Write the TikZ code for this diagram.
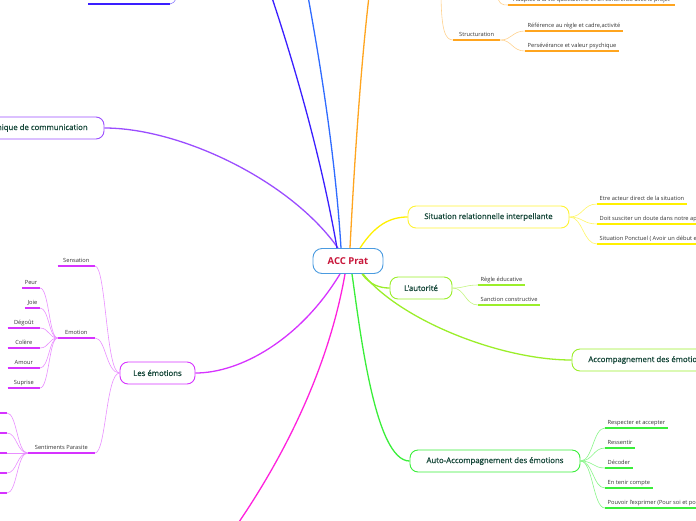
\documentclass[tikz,border=0pt]{standalone}
\usepackage{fontspec}
\setmainfont{Open Sans}
\newfontfamily\brfont[FakeBold=0.9]{Open Sans}
\definecolor{cblue}{HTML}{3A1FFF}
\definecolor{lblue}{HTML}{2F6BFF}
\definecolor{corange}{HTML}{FFA51F}
\definecolor{cyellow}{HTML}{FFF000}
\definecolor{clime}{HTML}{9BEE2A}
\definecolor{cgreen}{HTML}{3AEE3A}
\definecolor{cmag}{HTML}{FF22DD}
\definecolor{cviol}{HTML}{D633FF}
\definecolor{cpurp}{HTML}{9B4DFF}
\definecolor{centb}{HTML}{4A9BE0}
\definecolor{centt}{HTML}{C8163A}
\definecolor{brtext}{HTML}{17483A}
\definecolor{leaft}{HTML}{333333}
\begin{document}
\begin{tikzpicture}[x=1pt,y=-1pt,
  branch/.style={draw, rounded corners=8pt, line width=0.9pt, fill=white,
    font=\brfont\fontsize{7.8}{9}\selectfont, text=brtext, minimum height=22pt, inner xsep=6pt},
  leaf/.style={inner xsep=2.5pt, inner ysep=1.5pt, text height=1.4ex, text depth=0.3ex,
    font=\fontsize{5.7}{6.5}\selectfont, text=leaft},
  mainc/.style={line width=1.3pt},
  subc/.style={line width=0.6pt},
  ul/.style={line width=1.3pt}]
\useasboundingbox (0,0) rectangle (696,520);

% central node
\node[draw=centb, line width=0.9pt, rounded corners=9pt, minimum width=70pt, minimum height=25pt,
  font=\fontsize{9.5}{11}\selectfont\bfseries, text=centt, fill=white] (root) at (348,261) {ACC Prat};

% branch nodes
\node[branch, draw=cyellow!80, minimum width=161pt] (sri) at (488.5,217) {Situation relationnelle interpellante};
\node[branch, draw=clime, minimum width=62pt] (aut) at (421,288) {L'autorité};
\node[branch, draw=clime, minimum width=150pt] (acc) at (647,360) {Accompagnement des émotions};
\node[branch, draw=cgreen, minimum width=170pt] (auto) at (495,461) {Auto-Accompagnement des émotions};
\node[branch, draw=cviol, minimum width=75pt] (emo) at (157.5,373) {Les émotions};
\node[branch, draw=cpurp, minimum width=140pt] (comm) at (34,128) {Technique de communication};

% off-page endpoints
\coordinate (tb) at (266,-20);
\coordinate (tl) at (305,-20);
\coordinate (to) at (371,-20);
\coordinate (bm) at (230,535);
\coordinate (so) at (441,-10);
\coordinate (topo) at (496,-6);
\coordinate (topb) at (182,-6);

% main connectors
\draw[mainc, cpurp] ([xshift=-10pt]root.north) .. controls (290,180) and (180,128) .. (comm.east);
\draw[mainc, cblue] ([xshift=-11pt]root.north) .. controls (320,150) and (290,50) .. (tb);
\draw[mainc, lblue] ([xshift=-7pt]root.north) .. controls (335,150) and (318,50) .. (tl);
\draw[mainc, corange] ([xshift=2pt]root.north) .. controls (355,150) and (362,50) .. (to);
\draw[mainc, cyellow] ([xshift=12pt]root.north) .. controls (375,225) and (390,217) .. (sri.west);
\draw[mainc, clime] ([xshift=14pt]root.south) .. controls (370,285) and (380,288) .. (aut.west);
\draw[mainc, clime] ([xshift=15pt]root.south) .. controls (400,320) and (500,360) .. (acc.west);
\draw[mainc, cgreen] ([xshift=4pt]root.south) .. controls (360,330) and (375,461) .. (auto.west);
\draw[mainc, cmag] ([xshift=-3pt]root.south) .. controls (330,360) and (290,450) .. (bm);
\draw[mainc, cviol] ([xshift=-8pt]root.south) .. controls (300,340) and (240,373) .. (emo.east);

% top-left blue leaf (cut)
\coordinate (tbl1) at (88,4);
\coordinate (tbl2) at (170,4);
\draw[ul, cblue] (tbl1) -- (tbl2);
\draw[subc, cblue!60] (tbl2) .. controls (176,4) and (176,-6) .. (topb);

% orange: structuration
\node[leaf, minimum width=47pt, anchor=south west] (struc) at (453,40) {Structuration};
\draw[ul, corange] (struc.south west) -- (struc.south east);
\draw[subc, corange!50] (so) .. controls (441,30) and (445,40) .. (struc.south west);
\node[leaf, anchor=south west] (ref) at (525,31) {Référence au règle et cadre,activité};
\draw[ul, corange] (ref.south west) -- (ref.south east);
\node[leaf, anchor=south west] (pers) at (525,51) {Persévérance et valeur psychique};
\draw[ul, corange] (pers.south west) -- (pers.south east);
\draw[subc, corange!50] (struc.south east) .. controls (512,40) and (512,31) .. (ref.south west);
\draw[subc, corange!50] (struc.south east) .. controls (512,40) and (512,51) .. (pers.south west);
\node[leaf, anchor=south west, minimum width=167pt] (adap) at (508,5) {Adaptée à la vie quotidienne et en cohérence avec le projet};
\draw[ul, corange] (adap.south west) -- (adap.south east);
\draw[subc, corange!50] (topo) .. controls (500,5) and (502,5) .. (adap.south west);

% yellow leaves
\node[leaf, anchor=south west] (sri1) at (597,204) {Etre acteur direct de la situation};
\node[leaf, anchor=south west] (sri2) at (597,224) {Doit susciter un doute dans notre approche};
\node[leaf, anchor=south west] (sri3) at (597,244) {Situation Ponctuel ( Avoir un début et une fin )};
\foreach \n in {sri1,sri2,sri3}{
  \draw[ul, cyellow] (\n.south west) -- (\n.south east);
  \draw[subc, cyellow!60] (sri.east) .. controls (583,217) and (583,217 |- \n.south west) .. (\n.south west);
}

% lime leaves
\node[leaf, anchor=south west] (aut1) at (478,285) {Règle éducative};
\node[leaf, anchor=south west] (aut2) at (478,305) {Sanction constructive};
\foreach \n in {aut1,aut2}{
  \draw[ul, clime] (\n.south west) -- (\n.south east);
  \draw[subc, clime!60] (aut.east) .. controls (465,288) and (465,288 |- \n.south west) .. (\n.south west);
}

% green leaves
\node[leaf, anchor=south west] (g1) at (605,428) {Respecter et accepter};
\node[leaf, anchor=south west] (g2) at (605,448) {Ressentir};
\node[leaf, anchor=south west] (g3) at (605,468) {Décoder};
\node[leaf, anchor=south west] (g4) at (605,488) {En tenir compte};
\node[leaf, anchor=south west] (g5) at (605,508) {Pouvoir l'exprimer (Pour soi et pour les autres)};
\foreach \n in {g1,g2,g3,g4,g5}{
  \draw[ul, cgreen] (\n.south west) -- (\n.south east);
  \draw[subc, cgreen!60] (auto.east) .. controls (593,461) and (593,461 |- \n.south west) .. (\n.south west);
}

% violet: les emotions
\node[leaf, anchor=south east, minimum width=37pt] (sens) at (95,266) {Sensation};
\node[leaf, anchor=south east, minimum width=37pt] (emot) at (95,338) {Emotion};
\node[leaf, anchor=south east, minimum width=67pt] (sent) at (95,453) {Sentiments Parasite};
\foreach \n in {sens,emot,sent}{
  \draw[ul, cviol] (\n.south west) -- (\n.south east);
  \draw[subc, cviol!55] (emo.west) .. controls (106,373) and (106,373 |- \n.south east) .. (\n.south east);
}
\node[leaf, anchor=south east] (e1) at (40,288) {Peur};
\node[leaf, anchor=south east] (e2) at (40,308) {Joie};
\node[leaf, anchor=south east, minimum width=32pt] (e3) at (40,328) {Dégoût};
\node[leaf, anchor=south east, minimum width=32pt] (e4) at (40,348) {Colère};
\node[leaf, anchor=south east, minimum width=32pt] (e5) at (40,368) {Amour};
\node[leaf, anchor=south east, minimum width=32pt] (e6) at (40,388) {Suprise};
\foreach \n in {e1,e2,e3,e4,e5,e6}{
  \draw[ul, cviol] (\n.south west) -- (\n.south east);
  \draw[subc, cviol!55] (emot.south west) .. controls (49,338) and (49,338 |- \n.south east) .. (\n.south east);
}
\foreach \i/\yy in {1/413,2/433,3/453,4/473,5/493}{
  \coordinate (sp\i a) at (-10,\yy);
  \coordinate (sp\i) at (7,\yy);
  \draw[ul, cviol] (sp\i a) -- (sp\i);
  \draw[subc, cviol!55] (sent.south west) .. controls (17,453) and (17,\yy) .. (sp\i);
}
\end{tikzpicture}
\end{document}
